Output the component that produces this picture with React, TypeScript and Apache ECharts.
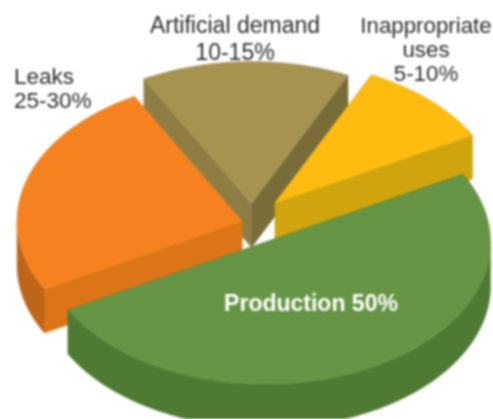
import React, { useEffect, useRef } from "react";
import * as echarts from "echarts";

const categories = ["Production", "Leaks", "Artificial demand", "Inappropriate uses"];
const shares = [50, 25, 15, 10];
const labels = ["Production 50%", "Leaks\n25-30%", "Artificial demand\n10-15%", "Inappropriate\nuses\n5-10%"];

const topColors = ["#659545", "#F5821F", "#A69350", "#FDBC0F"];
const startWallColors = ["#4D7A35", "#DB7518", "#8F7E44", "#D0A40E"];
const endWallColors = ["#4D7A35", "#DB7518", "#7A6C38", "#D0A40E"];
const arcWallColors = ["#4E7A34", "#BE6518", "#7A6C38", "#D0A40E"];

const apexes = [[265.5, 242], [242, 221], [251.5, 203.5], [275, 203]];
const paintOrder = [3, 2, 0, 1];
const START = -28.6;
const RX = 225;
const RY = 142;
const DEPTH = 44;

const labelBoxes = [
  { x: 311, y: 303, align: "center", size: 23, lh: 25, w: "bold", c: "#ffffff" },
  { x: 14, y: 88.5, align: "left", size: 22.5, lh: 24, w: "normal", c: "#2e2e2e" },
  { x: 235, y: 38.5, align: "center", size: 23, lh: 27, w: "normal", c: "#2e2e2e" },
  { x: 426, y: 49, align: "center", size: 22.3, lh: 24, w: "normal", c: "#2e2e2e" },
];

const rad = (d: number) => (d * Math.PI) / 180;

function arcPoints(a: number[], from: number, to: number, dy = 0) {
  const pts: number[][] = [];
  const n = Math.max(2, Math.ceil(Math.abs(to - from) / 1.5));
  for (let i = 0; i <= n; i++) {
    const t = rad(from + ((to - from) * i) / n);
    pts.push([a[0] + RX * Math.cos(t), a[1] + RY * Math.sin(t) + dy]);
  }
  return pts;
}

const total = shares.reduce((s, v) => s + v, 0);

function renderItem(_params: any, api: any) {
  const idx = api.value(0);
  let from = START;
  for (let i = 0; i < idx; i++) from += (shares[i] / total) * 360;
  const to = from + (api.value(1) / total) * 360;
  const a = apexes[idx];
  const rank = paintOrder[idx] * 10;
  const poly = (points: number[][], fill: string, z2: number) => ({
    type: "polygon",
    z2,
    shape: { points },
    style: { fill, stroke: fill, lineWidth: 0.4 },
  });
  const p0 = arcPoints(a, from, from)[0];
  const p1 = arcPoints(a, to, to)[0];
  const children: any[] = [
    poly([a, p0, [p0[0], p0[1] + DEPTH], [a[0], a[1] + DEPTH]], startWallColors[idx], rank),
    poly([a, p1, [p1[0], p1[1] + DEPTH], [a[0], a[1] + DEPTH]], endWallColors[idx], rank + 1),
  ];
  // the outer wall shows only where the rim faces the viewer
  for (const [lo, hi] of [[0, 180], [360, 540]]) {
    const s = Math.max(from, lo);
    const e = Math.min(to, hi);
    if (e > s) {
      children.push(poly([...arcPoints(a, s, e), ...arcPoints(a, e, s, DEPTH)], arcWallColors[idx], rank + 2));
    }
  }
  children.push(poly([a, ...arcPoints(a, from, to)], topColors[idx], rank + 3));
  return { type: "group", children };
}

export default function App() {
  const ref = useRef<HTMLDivElement>(null);
  useEffect(() => {
    document.body.style.margin = "0";
    document.body.style.background = "#ffffff";
    const chart = echarts.init(ref.current!, null, { renderer: "svg" });
    chart.setOption({
      animation: false,
      backgroundColor: "#ffffff",
      series: [
        {
          type: "custom",
          coordinateSystem: "none",
          silent: true,
          clip: false,
          renderItem,
          data: categories.map((c, i) => ({ name: c, value: [i, shares[i]] })),
        },
      ],
      graphic: labels.map((t, i) => ({
        type: "text",
        z: 100,
        x: labelBoxes[i].x,
        y: labelBoxes[i].y,
        style: {
          text: t,
          fill: labelBoxes[i].c,
          font: `${labelBoxes[i].w} ${labelBoxes[i].size}px "Liberation Sans", Arial, sans-serif`,
          lineHeight: labelBoxes[i].lh,
          align: labelBoxes[i].align,
          verticalAlign: "middle",
        },
      })),
    });
    return () => chart.dispose();
  }, []);
  return <div ref={ref} style={{ width: 493, height: 419, filter: "blur(0.8px)" }} />;
}
